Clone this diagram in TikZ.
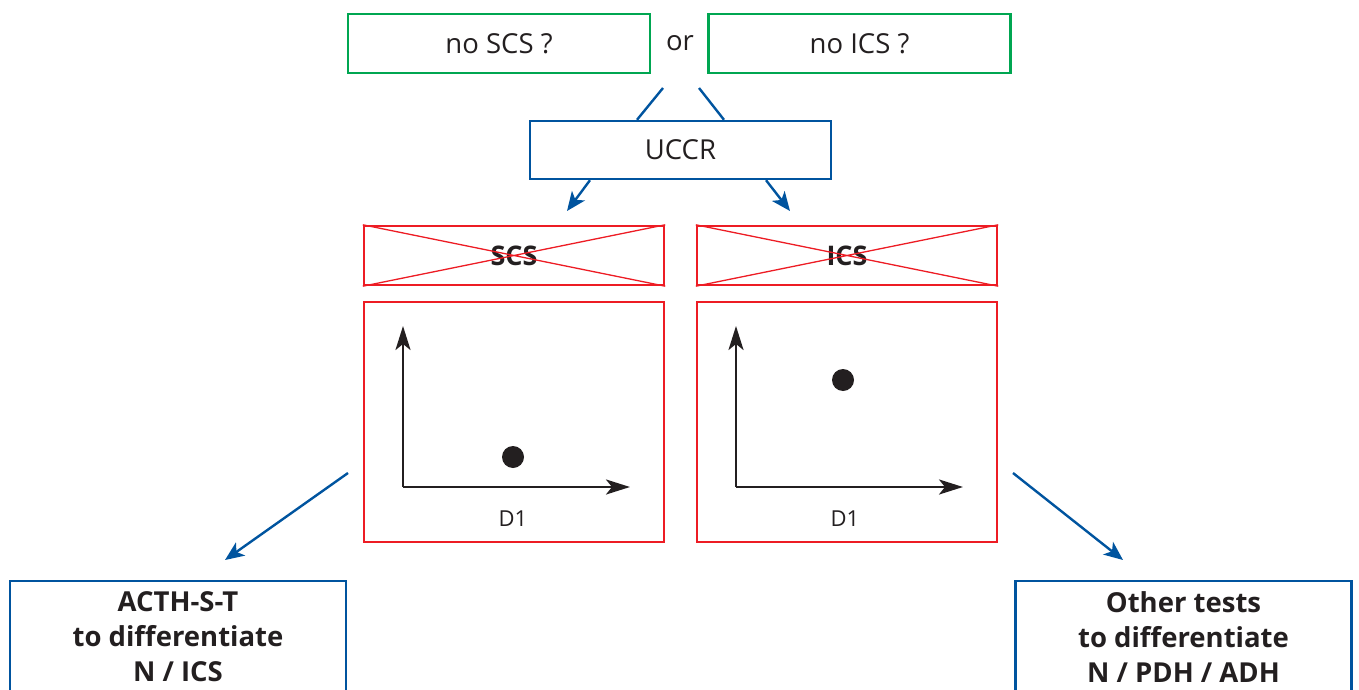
\documentclass[tikz,border=0pt]{standalone}
\usepackage{fontspec}
\setmainfont{Open Sans}
\usetikzlibrary{arrows.meta}
\definecolor{grn}{RGB}{0,166,81}
\definecolor{blu}{RGB}{0,84,159}
\definecolor{rd}{RGB}{237,28,36}
\definecolor{txt}{RGB}{35,31,32}
\begin{document}
\begin{tikzpicture}[x=1pt,y=-1pt,
  every node/.style={text=txt},
  gbox/.style={draw=grn,line width=2.4pt,minimum width=302pt,minimum height=59pt,inner sep=0pt,font=\fontsize{27.5}{30}\selectfont},
  bbox/.style={draw=blu,line width=2.4pt,minimum width=301pt,minimum height=58pt,inner sep=0pt,font=\fontsize{27.5}{30}\selectfont},
  xbox/.style={draw=rd,line width=2.4pt,minimum width=300pt,minimum height=59pt,inner sep=0pt,font=\fontsize{27}{30}\selectfont\bfseries},
  pbox/.style={draw=rd,line width=2.4pt,minimum width=300pt,minimum height=240pt,inner sep=0pt},
  obox/.style={draw=blu,line width=2.4pt,minimum width=336pt,minimum height=112pt,inner sep=0pt,align=center,font=\fontsize{27.5}{35}\selectfont\bfseries},
  bl/.style={draw=blu,line width=2.4pt},
  barr/.style={blu,line width=2.4pt,-{Stealth[length=19pt,width=16pt,inset=5pt]}},
  axarr/.style={txt,line width=2.6pt,-{Stealth[length=24pt,width=15pt,inset=6pt]}},
  lab/.style={font=\fontsize{22}{25}\selectfont}]
\useasboundingbox (0,0) rectangle (1359,690);
\node[gbox] (q1) at (499,43.5) {no SCS ?};
\node[gbox] (q2) at (859.5,43.5) {no ICS ?};
\node[font=\fontsize{27.5}{30}\selectfont] (or) at (680,43.5) {or};
\node[bbox] (u) at (680.5,150) {UCCR};
\coordinate (l1) at (663,88);
\coordinate (r1) at (699,88);
\draw[bl] (l1) -- (u.north -| 637,0);
\draw[bl] (r1) -- (u.north -| 724,0);
\coordinate (la) at (567,211);
\coordinate (ra) at (790,211);
\draw[barr] (u.south -| 590,0) -- (la);
\draw[barr] (u.south -| 766,0) -- (ra);
% crossed boxes
\node[xbox] (s) at (514,255.5) {SCS};
\node[xbox] (i) at (847,255.5) {ICS};
\draw[rd,line width=1.3pt] (s.north west) -- (s.south east) (s.south west) -- (s.north east);
\draw[rd,line width=1.3pt] (i.north west) -- (i.south east) (i.south west) -- (i.north east);
% plot boxes
\node[pbox] (ps) at (514,422) {};
\node[pbox] (pi) at (847,422) {};
\coordinate (os) at (403,487);
\coordinate (ys) at (403,326);
\coordinate (xs) at (630,487);
\draw[axarr] (os) -- (ys);
\draw[axarr] (os) -- (xs);
\fill[txt] (513,457) circle (11);
\node[lab] (d1) at (513,519) {D1};
\coordinate (oi) at (736,487);
\coordinate (yi) at (736,326);
\coordinate (xi) at (963,487);
\draw[axarr] (oi) -- (yi);
\draw[axarr] (oi) -- (xi);
\fill[txt] (843,380) circle (11);
\node[lab] (d2) at (845,519) {D1};
% bottom
\node[obox] (a) at (178,637) {ACTH-S-T\\to differentiate\\N / ICS};
\node[obox] (o) at (1183.5,637) {Other tests\\to differentiate\\N / PDH / ADH};
\coordinate (sa) at (348,473);
\coordinate (ea) at (225,560);
\coordinate (sb) at (1013,473);
\coordinate (eb) at (1123,560);
\draw[barr] (sa) -- (ea);
\draw[barr] (sb) -- (eb);
\end{tikzpicture}
\end{document}
